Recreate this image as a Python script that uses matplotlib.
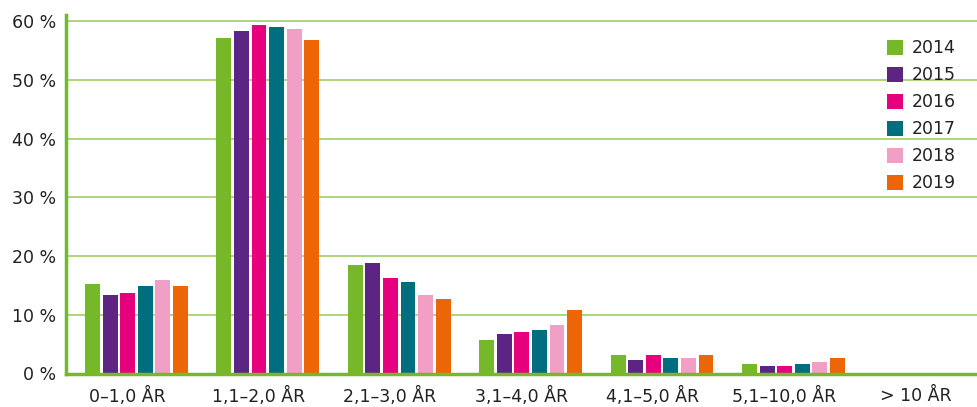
import matplotlib
matplotlib.use("Agg")
import matplotlib.pyplot as plt
import numpy as np
from matplotlib.ticker import FuncFormatter

categories = ["0–1,0 ÅR", "1,1–2,0 ÅR", "2,1–3,0 ÅR", "3,1–4,0 ÅR", "4,1–5,0 ÅR", "5,1–10,0 ÅR", "> 10 ÅR"]
years = ["2014", "2015", "2016", "2017", "2018", "2019"]
v2014 = [15.2, 57.2, 18.5, 5.7, 3.1, 1.6, 0.0]
v2015 = [13.4, 58.4, 18.8, 6.7, 2.3, 1.2, 0.0]
v2016 = [13.7, 59.4, 16.3, 7.0, 3.1, 1.2, 0.0]
v2017 = [14.9, 59.1, 15.6, 7.4, 2.6, 1.6, 0.0]
v2018 = [15.9, 58.7, 13.4, 8.2, 2.6, 1.9, 0.0]
v2019 = [14.9, 56.9, 12.7, 10.8, 3.1, 2.6, 0.0]
series = [v2014, v2015, v2016, v2017, v2018, v2019]
colors = ["#76b82a", "#5c2483", "#e6007e", "#006e7f", "#f29fc5", "#ec6608"]

plt.rcParams['font.family'] = ['DejaVu Sans']
fig = plt.figure(figsize=(9.77, 4.07), dpi=100)
ax = fig.add_axes([66/977, 33.5/407, 1 - 66/977, (407 - 15 - 33.5)/407])

x = np.arange(len(categories))
pitch = 17.6/132
bw = 15/132
for i, (vals, c, yr) in enumerate(zip(series, colors, years)):
    ax.bar(x + (i - 2.5) * pitch + 0.035, vals, width=bw, color=c, label=yr, zorder=3)

ax.set_xlim(-0.5, 6.43)
ax.set_ylim(0, 61.1)
ax.set_yticks([0, 10, 20, 30, 40, 50, 60])
ax.yaxis.set_major_formatter(FuncFormatter(lambda v, p: f"{int(v)} %"))
ax.set_xticks(x - 0.035)
ax.set_xticklabels(categories)
ax.grid(axis='y', color="#9fcf6a", lw=1.2, zorder=0)
ax.set_axisbelow(True)
for s in ["top", "right"]:
    ax.spines[s].set_visible(False)
for s in ["left", "bottom"]:
    ax.spines[s].set_color("#76b82a")
    ax.spines[s].set_linewidth(2.5)
    ax.spines[s].set_zorder(4)
ax.tick_params(axis='both', length=0, labelsize=12.5, labelcolor="#222222")
ax.tick_params(axis='y', pad=7)
ax.tick_params(axis='x', pad=9.5)

leg = fig.legend(loc="upper left", bbox_to_anchor=(887/977, 1 - 39/407), frameon=False,
                 fontsize=12.5, handlelength=0.95, handleheight=0.95, handletextpad=0.45,
                 labelspacing=0.52, borderaxespad=0, borderpad=0)
for t in leg.get_texts():
    t.set_color("#222222")

fig.savefig("out.png", dpi=100)
